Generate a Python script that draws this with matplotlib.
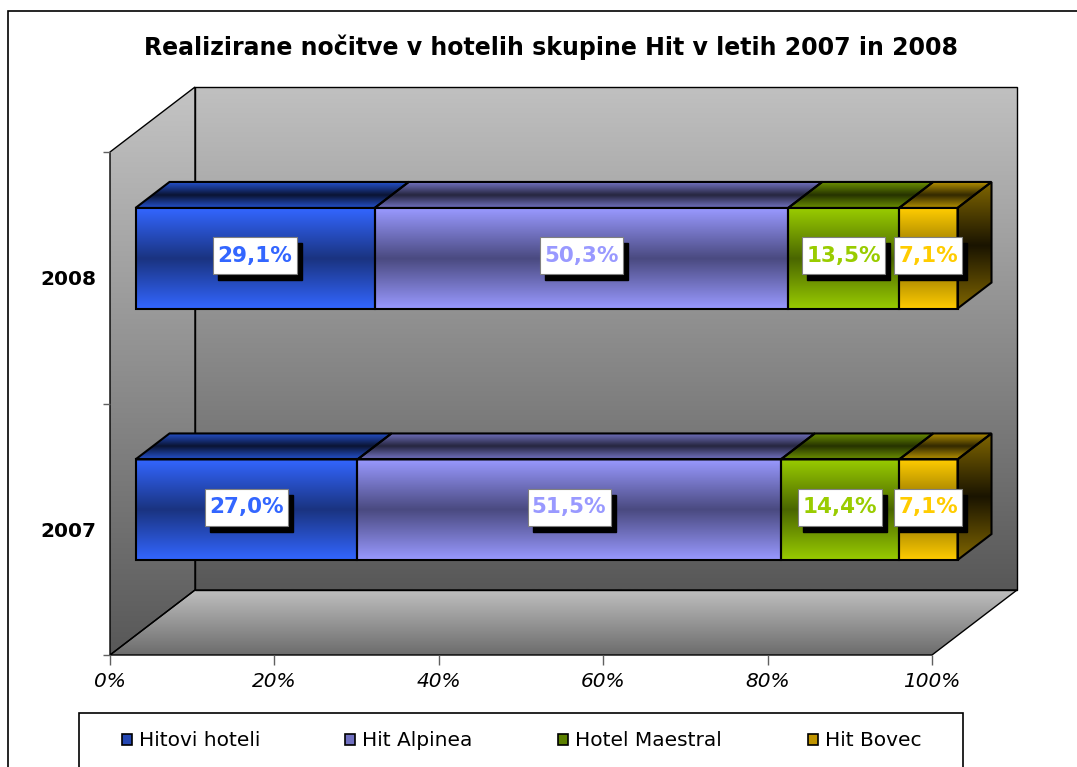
import numpy as np
import matplotlib
matplotlib.use('Agg')
import matplotlib.pyplot as plt
from matplotlib.patches import Polygon, Rectangle
from matplotlib.path import Path
from matplotlib.colors import to_rgb
from matplotlib import transforms

# data
years = ['2007', '2008']
hotels = ['Hitovi hoteli', 'Hit Alpinea', 'Hotel Maestral', 'Hit Bovec']
share_2007 = [27.0, 51.5, 14.4, 7.1]
share_2008 = [29.1, 50.3, 13.5, 7.1]
x_ticks = [0, 20, 40, 60, 80, 100]
x_labels = ['0%', '20%', '40%', '60%', '80%', '100%']

front_light = ['#3366ff', '#9999ff', '#99cc00', '#ffcc00']
front_dark = ['#1a3380', '#4a4a80', '#4a6600', '#806600']
top_light = ['#2451cc', '#7272c0', '#6b8f00', '#b38f00']
top_dark = ['#0a1433', '#26263f', '#263300', '#332900']
legend_col = ['#2447b3', '#7070c0', '#5c8000', '#c09400']

W, H = 1077, 767
# 3d depth offset of the box, in data units
DX = 85 / 822 * 100
DY = 65 / 251.5


def P(x, y, z):
    return (x + z * DX, y + z * DY)


def label_box(x0, y0, width, height, mutation_size):
    # narrow sideways, tall up/down, like the excel label boxes
    px, py = 0.2 * mutation_size, 0.4 * mutation_size
    return Path([(x0 - px, y0 - py), (x0 + width + px, y0 - py),
                 (x0 + width + px, y0 + height + py), (x0 - px, y0 + height + py),
                 (x0 - px, y0 - py)], closed=True)


def shade(ax, verts, cols, z, lw=1.0):
    """polygon filled with a vertical gradient (top -> bottom), clipped to it"""
    poly = Polygon(verts, closed=True, fill=False, ec='black', lw=lw,
                   zorder=z + 0.1, joinstyle='miter', clip_on=False)
    ax.add_patch(poly)
    t = np.linspace(0, 1, 128)
    stops = np.linspace(0, 1, len(cols))
    rgb = np.array([to_rgb(c) for c in cols])
    img = np.stack([np.interp(t, stops, rgb[:, k]) for k in range(3)], axis=-1)
    img = img[:, None, :]
    xs = [v[0] for v in verts]
    ys = [v[1] for v in verts]
    im = ax.imshow(img, extent=(min(xs), max(xs), min(ys), max(ys)),
                   origin='upper', aspect='auto', interpolation='bilinear',
                   zorder=z)
    im.set_clip_path(poly)


fig = plt.figure(figsize=(W / 100, H / 100), dpi=100)
fig.patch.set_facecolor('white')
ax = fig.add_axes([110 / W, (H - 655) / H, (1017 - 110) / W, (655 - 87) / H])
ax.set_facecolor('none')

# walls and floor
shade(ax, [P(0, 0, 0), P(0, 0, 1), P(0, 2, 1), P(0, 2, 0)], ['#c4c4c4', '#585858'], 1)
shade(ax, [P(0, 0, 1), P(100, 0, 1), P(100, 2, 1), P(0, 2, 1)], ['#c0c0c0', '#585858'], 1)
shade(ax, [P(0, 0, 0), P(100, 0, 0), P(100, 0, 1), P(0, 0, 1)], ['#c0c0c0', '#6c6c6c'], 1)

# bars
for row, vals in enumerate([share_2007, share_2008]):
    yc = row + 0.5
    y0, y1 = yc - 0.2, yc + 0.2
    z0, z1 = 0.3, 0.7
    left = 0
    for i, v in enumerate(vals):
        x0, x1 = left, left + v
        shade(ax, [P(x0, y1, z0), P(x1, y1, z0), P(x1, y1, z1), P(x0, y1, z1)],
              [top_light[i], top_dark[i], top_light[i]], 3, lw=1.5)
        shade(ax, [P(x0, y0, z0), P(x1, y0, z0), P(x1, y1, z0), P(x0, y1, z0)],
              [front_light[i], front_dark[i], front_light[i]], 3, lw=1.5)
        if i == len(vals) - 1:
            shade(ax, [P(x1, y0, z0), P(x1, y0, z1), P(x1, y1, z1), P(x1, y1, z0)],
                  ['#806600', '#1a1400', '#806600'], 3, lw=1.5)
        lx, ly = P((x0 + x1) / 2, yc, z0)
        lab = ('%.1f%%' % v).replace('.', ',')
        shadow = transforms.offset_copy(ax.transData, fig=fig, x=5, y=-6, units='dots')
        ax.text(lx, ly + 0.01, lab, transform=shadow, ha='center', va='center',
                fontsize=15.5, fontweight='bold', color='black', zorder=6,
                bbox=dict(boxstyle=label_box, fc='black', ec='black'))
        ax.text(lx, ly + 0.01, lab, ha='center', va='center', fontsize=15.5,
                fontweight='bold', color=front_light[i], zorder=7,
                bbox=dict(boxstyle=label_box, fc='white', ec='#808080', lw=0.8))
        left = x1

ax.set_xlim(0, 100 + DX)
ax.set_ylim(0, 2 + DY)
for s in ax.spines.values():
    s.set_visible(False)

ax.set_xticks(x_ticks)
ax.set_xticklabels(x_labels, fontsize=14.5, fontstyle='italic')
ax.set_yticks([0, 1, 2])
ax.set_yticklabels([])
ax.set_yticks([0.5, 1.5], minor=True)
ax.set_yticklabels(years, minor=True, fontsize=14.5, fontweight='bold')
ax.tick_params(axis='x', direction='out', length=7, width=1, color='#606060', pad=5)
ax.tick_params(axis='y', which='major', direction='out', length=5, width=1, color='#606060')
ax.tick_params(axis='y', which='minor', length=0, pad=9.5)

fig.text(551 / W, 1 - 47 / H, 'Realizirane nočitve v hotelih skupine Hit v letih 2007 in 2008',
         ha='center', va='center', fontsize=17, fontweight='bold')

# outer chart border
fig.patches.append(Rectangle((8 / W, -0.1), 1.2, 1 - 11 / H + 0.1, transform=fig.transFigure,
                             fill=False, ec='black', lw=1.2))

# legend
fig.patches.append(Rectangle((79 / W, -0.1), (963 - 79) / W, 1 - 713 / H + 0.1,
                             transform=fig.transFigure, fill=False, ec='black', lw=1.2))
leg_x = [122, 345, 558, 808]
for i, name in enumerate(hotels):
    fig.patches.append(Rectangle((leg_x[i] / W, 1 - 745 / H), 10 / W, 11 / H,
                                 transform=fig.transFigure, fc=legend_col[i],
                                 ec='black', lw=1.2))
    fig.text((leg_x[i] + 17) / W, 1 - 740 / H, name, ha='left', va='center', fontsize=14.5)

fig.savefig('out.png', dpi=100)
